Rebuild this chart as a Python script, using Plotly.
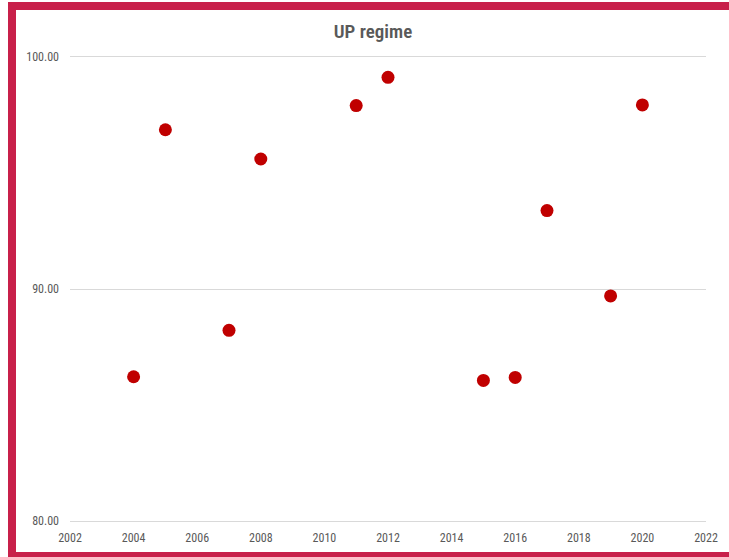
import plotly.graph_objects as go

# Yearly values of the UP regime series
years = [2004, 2005, 2007, 2008, 2011, 2012, 2015, 2016, 2017, 2019, 2020]
values = [86.22, 96.86, 88.22, 95.60, 97.90, 99.12, 86.06, 86.19, 93.38, 89.70, 97.93]

title_text = "UP regime"
x_ticks = list(range(2002, 2023, 2))
y_ticks = [80, 90, 100]

W, H = 729, 557
L, R, T, B = 70, 23, 55, 34
pw, ph = W - L - R, H - T - B

font_family = "Liberation Sans Narrow, Roboto Condensed, Noto Sans, sans-serif"
text_color = "#595959"
frame_color = "#C8204A"

fig = go.Figure(
    go.Scatter(
        x=years,
        y=values,
        mode="markers",
        marker=dict(size=13, color="#C00000", line=dict(width=0)),
        showlegend=False,
    )
)


def px_x(p):
    return (p - L) / pw


def px_y(p):
    return 1 - (p - T) / ph


fig.update_layout(
    width=W,
    height=H,
    margin=dict(l=L, r=R, t=T, b=B),
    paper_bgcolor="white",
    plot_bgcolor="white",
    title=dict(
        text=title_text,
        x=373 / W,
        xanchor="center",
        y=1 - 31 / H,
        yanchor="middle",
        font=dict(family=font_family, size=19, color=text_color, weight=600),
    ),
    xaxis=dict(
        range=[2002, 2022],
        tickvals=x_ticks,
        ticktext=[str(v) for v in x_ticks],
        showgrid=False,
        zeroline=False,
        showline=False,
        ticks="",
        automargin=False,
        ticklabelstandoff=6,
        tickfont=dict(family=font_family, size=12, color=text_color),
    ),
    yaxis=dict(
        range=[79.92, 100.08],
        tickvals=y_ticks,
        tickformat=".2f",
        showgrid=True,
        gridcolor="#D9D9D9",
        gridwidth=1,
        zeroline=False,
        showline=False,
        ticks="",
        automargin=False,
        ticklabelstandoff=10,
        tickfont=dict(family=font_family, size=12, color=text_color),
    ),
    shapes=[
        dict(
            type="rect",
            xref="paper",
            yref="paper",
            x0=px_x(12),
            x1=px_x(740),
            y0=px_y(556),
            y1=px_y(6),
            line=dict(color=frame_color, width=8),
            fillcolor="rgba(0,0,0,0)",
            layer="above",
        )
    ],
)

fig.write_html("out.html")
